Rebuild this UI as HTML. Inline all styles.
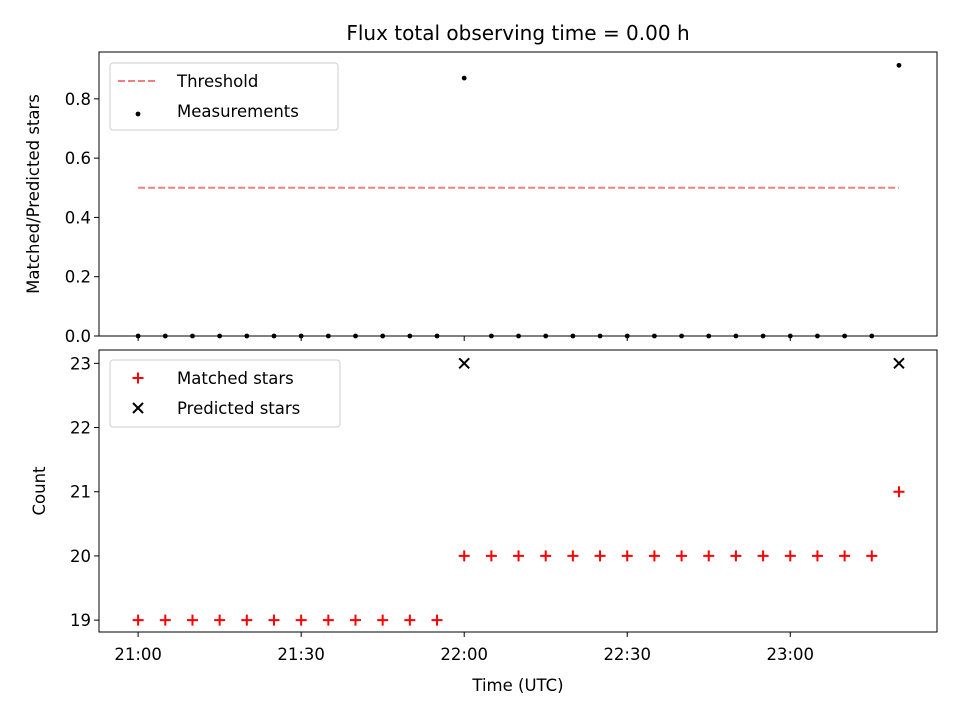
<!DOCTYPE html>
<html><head><meta charset="utf-8"><style>
body{margin:0;background:#fff;}
svg{font-family:"DejaVu Sans","Liberation Sans",sans-serif;}
</style></head><body>
<svg id="chart" width="960" height="720" viewBox="0 0 960 720" xmlns="http://www.w3.org/2000/svg">
<rect width="960" height="720" fill="#fff"/>
<text x="518" y="40" font-size="20" text-anchor="middle">Flux total observing time = 0.00 h</text>
</svg>
<script>
// minutes after 21:00
const times=[0,5,10,15,20,25,30,35,40,45,50,55,60,65,70,75,80,85,90,95,100,105,110,115,120,125,130,135,140];
const matched=[19,19,19,19,19,19,19,19,19,19,19,19,20,20,20,20,20,20,20,20,20,20,20,20,20,20,20,20,21];
const predicted=[0,0,0,0,0,0,0,0,0,0,0,0,23,0,0,0,0,0,0,0,0,0,0,0,0,0,0,0,23];
const ratio=[0,0,0,0,0,0,0,0,0,0,0,0,0.87,0,0,0,0,0,0,0,0,0,0,0,0,0,0,0,0.913];
const threshold=0.5;
const xTickVals=[0,30,60,90,120];
const xTickLabels=["21:00","21:30","22:00","22:30","23:00"];
const topYTicks=[0,0.2,0.4,0.6,0.8];
const botYTicks=[19,20,21,22,23];

const svg=document.getElementById('chart');
const NS='http://www.w3.org/2000/svg';
const FS=16.5;
function mk(tag,attrs,parent){const e=document.createElementNS(NS,tag);for(const k in attrs)e.setAttribute(k,attrs[k]);(parent||svg).appendChild(e);return e;}
const L=99,R=937;
const xMin=-7.2,xMax=147.0;
const X=v=>L+(v-xMin)/(xMax-xMin)*(R-L);
const T={top:52,bot:336,min:0,max:0.958};
const B={top:350,bot:632,min:18.815,max:23.208};
const Yt=v=>T.bot-(v-T.min)/(T.max-T.min)*(T.bot-T.top);
const Yb=v=>B.bot-(v-B.min)/(B.max-B.min)*(B.bot-B.top);

function axes(P,name){
  const r=mk('rect',{x:L,y:P.top,width:R-L,height:P.bot-P.top,fill:'none',stroke:'#000','stroke-width':1});
  
  
  xTickVals.forEach(v=>{
    const t=mk('line',{x1:X(v),x2:X(v),y1:P.bot,y2:P.bot+5,stroke:'#000'});
    
    
  });
}
axes(T,'top-axes');axes(B,'bottom-axes');

topYTicks.forEach(v=>{
  const y=Yt(v);
  const t=mk('line',{x1:L-5,x2:L,y1:y,y2:y,stroke:'#000'});
  
  
  const tx=mk('text',{x:L-8,y:y+6,'font-size':FS,'text-anchor':'end'});
  
  
  tx.textContent=v.toFixed(1);
});
botYTicks.forEach(v=>{
  const y=Yb(v);
  const t=mk('line',{x1:L-5,x2:L,y1:y,y2:y,stroke:'#000'});
  
  
  const tx=mk('text',{x:L-8,y:y+6,'font-size':FS,'text-anchor':'end'});
  
  
  tx.textContent=String(v);
});
xTickVals.forEach((v,i)=>{
  const tx=mk('text',{x:X(v),y:B.bot+28,'font-size':FS,'text-anchor':'middle'});
  
  
  tx.textContent=xTickLabels[i];
});
let t;
t=mk('text',{x:518,y:691,'font-size':FS,'text-anchor':'middle'});
t.textContent='Time (UTC)';
t=mk('text',{x:0,y:0,'font-size':FS,'text-anchor':'middle',transform:'translate(39,194) rotate(-90)'});
t.textContent='Matched/Predicted stars';
t=mk('text',{x:0,y:0,'font-size':FS,'text-anchor':'middle',transform:'translate(45,491) rotate(-90)'});
t.textContent='Count';

// threshold line
const th=mk('line',{x1:X(times[0]),x2:X(times[times.length-1]),y1:Yt(threshold),y2:Yt(threshold),stroke:'#f08080','stroke-width':2,'stroke-dasharray':'7,3'});


times.forEach((tm,i)=>{
  const c=mk('circle',{cx:X(tm),cy:Yt(ratio[i]),r:2.4,fill:'#000'});
  
  
  const x=X(tm),y=Yb(matched[i]);
  const p=mk('path',{d:`M${x-5.5},${y}H${x+5.5}M${x},${y-5.5}V${y+5.5}`,stroke:'#f00','stroke-width':2});
  
  
  if(predicted[i]>=B.min){
    const yp=Yb(predicted[i]);
    const q=mk('path',{d:`M${x-5},${yp-5}L${x+5},${yp+5}M${x-5},${yp+5}L${x+5},${yp-5}`,stroke:'#000','stroke-width':2});
    
    
  }
});

// legends
function legend(y0,w,items,name){
  const g=mk('g',{});
  
  
  mk('rect',{x:110,y:y0,width:w,height:67,rx:3,fill:'#fff','fill-opacity':0.8,stroke:'#ccc'},g);
  items.forEach((it,i)=>{
    const cy=y0+18+i*30,cx=138;
    let m;
    if(it.k==='dash')m=mk('line',{x1:118,x2:158,y1:cy,y2:cy,stroke:'#f08080','stroke-width':2,'stroke-dasharray':'7,3'},g);
    else if(it.k==='dot')m=mk('circle',{cx:cx,cy:cy+3,r:2.4,fill:'#000'},g);
    else if(it.k==='plus')m=mk('path',{d:`M${cx-5.5},${cy}H${cx+5.5}M${cx},${cy-5.5}V${cy+5.5}`,stroke:'#f00','stroke-width':2},g);
    else m=mk('path',{d:`M${cx-5},${cy-5}L${cx+5},${cy+5}M${cx-5},${cy+5}L${cx+5},${cy-5}`,stroke:'#000','stroke-width':2},g);
    
    
    const tx=mk('text',{x:177,y:cy+6,'font-size':FS},g);
    
    
    tx.textContent=it.t;
  });
}
legend(63,228,[{k:'dash',t:'Threshold'},{k:'dot',t:'Measurements'}],'top-legend');
legend(360,230,[{k:'plus',t:'Matched stars'},{k:'x',t:'Predicted stars'}],'bottom-legend');
</script>
</body></html>
